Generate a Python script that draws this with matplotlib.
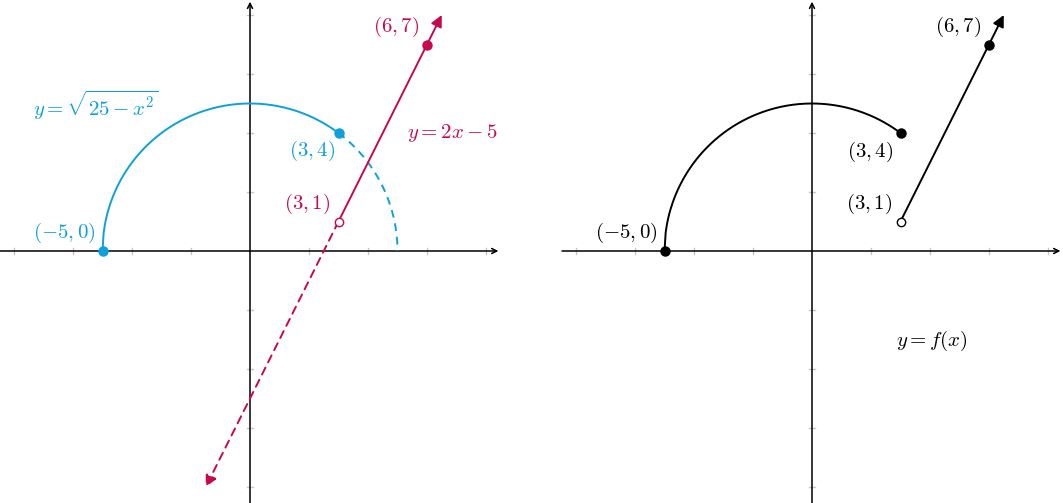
import numpy as np
import matplotlib.pyplot as plt

plt.rcParams['mathtext.fontset'] = 'cm'

# datos
ticks = [-8, -6, -4, -2, 2, 4, 6, 8]
radio = 5
arco_solido = [-5, 3]      # x de la parte continua de y = sqrt(25 - x^2)
arco_punteado = [3, 5]     # x de la parte punteada
recta_m, recta_b = 2, -5   # y = 2x - 5
recta_solida = [3, 6.5]
recta_punteada = [3, -1.5]

puntos_llenos_izq = [(-5, 0, 'azul'), (3, 4, 'azul'), (6, 7, 'rojo')]
puntos_abiertos_izq = [(3, 1, 'rojo')]
puntos_llenos_der = [(-5, 0), (3, 4), (6, 7)]
puntos_abiertos_der = [(3, 1)]

etiquetas_izq = [
    (-6.31, 0.61, r'$(-5,0)$', 'azul'),
    (-5.22, 4.95, r'$y=\sqrt{25-x^2}$', 'azul'),
    (2.10, 3.39, r'$(3,4)$', 'azul'),
    (1.93, 1.59, r'$(3,1)$', 'rojo'),
    (4.95, 7.59, r'$(6,7)$', 'rojo'),
    (6.85, 4.0, r'$y=2x-5$', 'rojo'),
]
etiquetas_der = [
    (-6.31, 0.61, r'$(-5,0)$'),
    (1.97, 3.36, r'$(3,4)$'),
    (1.93, 1.59, r'$(3,1)$'),
    (4.95, 7.59, r'$(6,7)$'),
    (4.07, -3.05, r'$y=f(x)$'),
]

colores = {'azul': '#0EA0DA', 'rojo': '#C8084E', 'negro': 'black'}

W, H = 1063, 503
u = 29.5  # pixeles por unidad
fig = plt.figure(figsize=(W / 100, H / 100), dpi=100)


def ejes(x0_px):
    ax = fig.add_axes([x0_px / W, 0, 500 / W, 1])
    ax.set_xlim(-250 / u, 250 / u)
    ax.set_ylim(-252 / u, 251 / u)
    ax.axis('off')
    # marcas
    for t in ticks:
        ax.plot([t, t], [-0.1, 0.1], color='#c8c8c8', lw=1, zorder=1)
        ax.plot([-0.1, 0.1], [t, t], color='#c8c8c8', lw=1, zorder=1)
    # ejes con flecha
    ax.annotate('', xy=(8.42, 0), xytext=(-250 / u, 0),
                arrowprops=dict(arrowstyle='->', lw=1.1, color='black',
                                shrinkA=0, shrinkB=0, mutation_scale=9), zorder=2)
    ax.annotate('', xy=(0, 8.45), xytext=(0, -252 / u),
                arrowprops=dict(arrowstyle='->', lw=1.1, color='black',
                                shrinkA=0, shrinkB=0, mutation_scale=9), zorder=2)
    return ax


def arco(ax, xs, color, ls):
    x = np.linspace(xs[0], xs[1], 200)
    ax.plot(x, np.sqrt(radio ** 2 - x ** 2), color=color, lw=1.4, ls=ls, zorder=3)


def recta(ax, xs, color, ls):
    x = np.array(xs)
    y = recta_m * x + recta_b
    ax.annotate('', xy=(x[1], y[1]), xytext=(x[0], y[0]),
                arrowprops=dict(arrowstyle='-|>', lw=1.4, color=color, ls=ls,
                                shrinkA=0, shrinkB=0, mutation_scale=17), zorder=3)


# panel izquierdo
ax1 = ejes(0)
arco(ax1, arco_solido, colores['azul'], '-')
arco(ax1, arco_punteado, colores['azul'], (0, (4, 3)))
recta(ax1, recta_solida, colores['rojo'], '-')
recta(ax1, recta_punteada, colores['rojo'], (0, (4, 3)))
for x, y, c in puntos_llenos_izq:
    ax1.plot(x, y, 'o', ms=6.5, color=colores[c], zorder=5)
for x, y, c in puntos_abiertos_izq:
    ax1.plot(x, y, 'o', ms=6, mfc='white', mec=colores[c], mew=1, zorder=5)
for x, y, s, c in etiquetas_izq:
    ax1.text(x, y, s, color=colores[c], fontsize=15, ha='center', va='center')

# panel derecho
ax2 = ejes(562)
arco(ax2, arco_solido, 'black', '-')
recta(ax2, recta_solida, 'black', '-')
for x, y in puntos_llenos_der:
    ax2.plot(x, y, 'o', ms=6.5, color='black', zorder=5)
for x, y in puntos_abiertos_der:
    ax2.plot(x, y, 'o', ms=6, mfc='white', mec='black', mew=1, zorder=5)
for x, y, s in etiquetas_der:
    ax2.text(x, y, s, color='black', fontsize=15, ha='center', va='center')

fig.savefig('out.png', dpi=100)
